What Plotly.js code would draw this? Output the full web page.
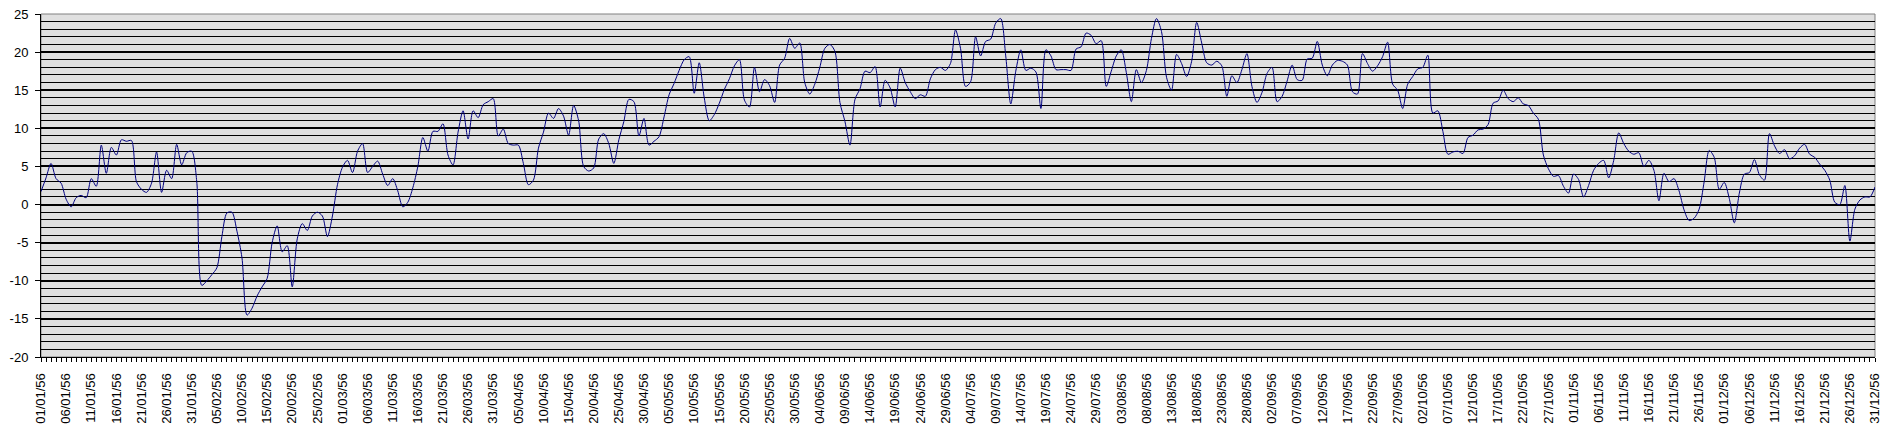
<!DOCTYPE html>
<html>
<head>
<meta charset="utf-8">
<script src="https://cdn.plot.ly/plotly-3.0.1.min.js"></script>
<style>
  html, body { margin: 0; padding: 0; background: #ffffff; }
  #chart { width: 1902px; height: 433px; }
</style>
</head>
<body>
<div id="chart"></div>
<script>
// Daily values for 1956 (01/01/56 .. 31/12/56)
const startDate = '1956-01-01';
const endDate = '1956-12-31';
const temps = [
  1.7, 3.5, 5.4, 3.4, 2.8, 0.7, -0.3, 0.9, 1.2, 0.9,
  3.4, 2.4, 7.8, 4.1, 7.5, 6.5, 8.5, 8.3, 8.4, 3.0,
  2.0, 1.6, 2.8, 6.9, 1.6, 4.5, 3.4, 7.9, 5.2, 6.8,
  7.0, 3.0, -10.6, -10.0, -9.2, -8.3, -4.2, -1.1, -1.0, -3.5,
  -7.0, -14.5, -13.6, -12.0, -10.8, -9.7, -5.0, -2.8, -6.2, -5.4,
  -10.8, -4.5, -2.5, -3.4, -1.5, -1.0, -1.5, -4.2, -1.5, 2.6,
  4.9, 5.8, 4.2, 7.0, 8.0, 4.2, 5.0, 5.7, 4.0, 2.5,
  3.4, 1.8, -0.3, 0.3, 2.2, 5.0, 8.8, 7.0, 9.6, 9.6,
  10.6, 6.5, 5.2, 9.5, 12.3, 8.6, 12.3, 11.4, 13.1, 13.5,
  13.9, 9.0, 9.9, 8.0, 7.8, 7.8, 5.4, 2.6, 3.2, 7.4,
  9.5, 12.0, 11.3, 12.6, 11.6, 9.1, 13.0, 11.0, 5.0, 4.4,
  4.8, 8.6, 9.3, 8.0, 5.4, 8.5, 10.9, 13.8, 13.5, 9.0,
  11.3, 7.8, 8.3, 8.9, 11.5, 14.4, 15.9, 17.6, 19.0, 19.4,
  14.6, 18.6, 14.0, 11.0, 11.8, 13.3, 15.1, 16.5, 18.2, 19.0,
  13.7, 12.8, 18.0, 14.8, 16.4, 15.6, 13.4, 18.3, 19.2, 21.8,
  20.5, 21.2, 16.0, 14.5, 15.8, 18.0, 20.5, 21.0, 20.1, 13.4,
  10.9, 7.8, 13.8, 15.2, 17.5, 17.3, 18.1, 12.8, 16.3, 15.3,
  12.8, 17.9, 16.0, 14.8, 13.9, 14.4, 14.2, 16.5, 17.7, 18.0,
  17.6, 18.5, 22.9, 20.5, 15.5, 16.1, 22.0, 19.5, 21.4, 21.7,
  23.8, 24.4, 19.5, 13.2, 17.5, 20.3, 17.6, 17.9, 17.4, 12.6,
  20.3, 19.5, 17.7, 17.7, 17.7, 17.6, 20.4, 20.7, 22.5, 22.2,
  21.1, 21.5, 15.5, 17.5, 19.5, 20.3, 17.3, 13.5, 17.7, 16.0,
  17.6, 21.8, 24.4, 22.7, 16.7, 15.0, 19.7, 18.5, 16.8, 18.8,
  23.9, 21.2, 18.6, 18.3, 18.8, 18.2, 14.2, 16.9, 16.0, 17.7,
  19.8, 15.5, 13.4, 14.7, 17.2, 18.0, 13.5, 14.2, 16.2, 18.3,
  16.4, 16.3, 19.1, 19.2, 21.4, 18.3, 16.9, 18.3, 18.9, 18.8,
  18.3, 14.8, 14.5, 19.8, 18.5, 17.5, 18.2, 19.4, 21.3, 15.8,
  15.0, 12.6, 15.8, 16.8, 17.8, 18.0, 19.6, 12.0, 12.3, 9.6,
  6.6, 6.9, 7.0, 6.7, 8.8, 9.1, 9.8, 9.9, 10.5, 13.3,
  13.6, 15.0, 13.9, 13.5, 14.0, 13.2, 13.0, 12.0, 11.2, 6.5,
  4.7, 3.7, 3.8, 2.4, 1.5, 4.0, 3.3, 1.0, 2.5, 4.5,
  5.4, 5.8, 3.5, 5.8, 9.4, 8.0, 7.0, 6.6, 6.8, 5.0,
  5.8, 4.5, 0.5, 4.1, 3.0, 3.4, 1.8, -0.7, -2.1, -1.8,
  -0.6, 3.0, 7.1, 6.2, 2.0, 2.9, 0.8, -2.4, 1.5, 4.0,
  4.2, 5.9, 3.9, 3.2, 9.3, 7.7, 6.7, 7.2, 6.0, 6.4,
  7.4, 7.9, 6.6, 6.2, 5.3, 4.5, 3.2, 0.3, 0.0, 2.5,
  -4.8, -0.6, 0.6, 1.0, 1.0, 2.3
];
const yTickVals = [-20, -15, -10, -5, 0, 5, 10, 15, 20, 25];

// Category dates: one per day starting at startDate
const dates = [];
(function () {
  const t0 = Date.UTC(1956, 0, 1);
  for (let i = 0; i < temps.length; i++) {
    const d = new Date(t0 + i * 86400000);
    const mm = String(d.getUTCMonth() + 1).padStart(2, '0');
    const dd = String(d.getUTCDate()).padStart(2, '0');
    dates.push(d.getUTCFullYear() + '-' + mm + '-' + dd);
  }
})();

const DAY = 86400000;
const font = { family: 'Liberation Sans, Arial, sans-serif', size: 13, color: '#000000' };

const trace = {
  x: dates,
  y: temps,
  type: 'scatter',
  mode: 'lines',
  line: { color: '#000080', width: 1, shape: 'spline', smoothing: 0.8 },
  hoverinfo: 'x+y',
  showlegend: false
};

const layout = {
  width: 1902,
  height: 433,
  margin: { l: 41, r: 27, t: 14, b: 76, pad: 0 },
  paper_bgcolor: '#ffffff',
  plot_bgcolor: '#e0e0e0',
  font: font,
  showlegend: false,
  xaxis: {
    type: 'date',
    range: [startDate, endDate],
    tick0: startDate,
    dtick: 5 * DAY,
    tickformat: '%d/%m/%y',
    tickangle: -90,
    ticks: 'outside',
    ticklen: 4,
    tickwidth: 1,
    tickcolor: '#000000',
    ticklabelstandoff: 6,
    showgrid: false,
    zeroline: false,
    showline: true,
    linecolor: '#000000',
    linewidth: 1,
    tickfont: { family: 'Liberation Sans, Arial, sans-serif', size: 13, color: '#000000' },
    minor: { dtick: DAY, tick0: startDate, ticks: 'outside', ticklen: 4, tickwidth: 1, tickcolor: '#000000', showgrid: false }
  },
  xaxis2: {
    type: 'date',
    matches: 'x',
    overlaying: 'x',
    anchor: 'y',
    side: 'bottom',
    tick0: startDate,
    dtick: DAY,
    ticks: 'inside',
    ticklen: 3,
    tickwidth: 1,
    tickcolor: '#000000',
    showticklabels: false,
    showgrid: false,
    zeroline: false,
    showline: false
  },
  yaxis: {
    range: [-20, 25],
    tickvals: yTickVals,
    ticktext: yTickVals.map(String),
    ticks: 'outside',
    ticklen: 5,
    tickwidth: 1,
    tickcolor: '#000000',
    ticklabelstandoff: 4,
    showgrid: true,
    gridcolor: '#000000',
    gridwidth: 2,
    zeroline: false,
    showline: true,
    linecolor: '#000000',
    linewidth: 1,
    tickfont: { family: 'Liberation Sans, Arial, sans-serif', size: 13, color: '#000000' },
    minor: { dtick: 1, tick0: -20, showgrid: true, gridcolor: '#000000', gridwidth: 1, ticks: '' }
  },
  shapes: [
    { type: 'rect', xref: 'paper', yref: 'paper', x0: 0, x1: 1, y0: 0, y1: 1,
      line: { color: '#808080', width: 1 }, fillcolor: 'rgba(0,0,0,0)', layer: 'between' }
  ]
};

Plotly.newPlot('chart', [trace], layout, { displayModeBar: false, staticPlot: true });
</script>
</body>
</html>
